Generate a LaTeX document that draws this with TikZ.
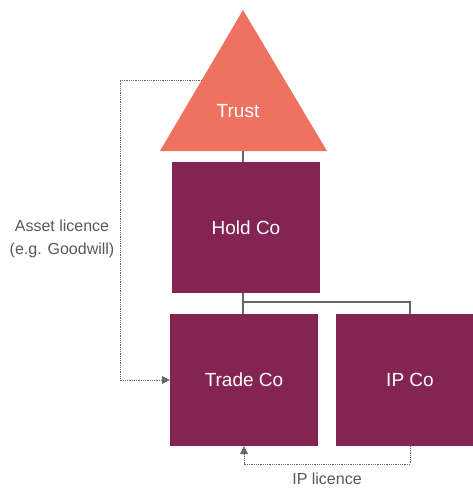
\documentclass[tikz,border=0pt]{standalone}
\usepackage{fontspec}
\setmainfont{Liberation Sans}
\usetikzlibrary{arrows.meta,shapes.geometric}
\definecolor{trustc}{HTML}{EF7260}
\definecolor{boxc}{HTML}{842452}
\definecolor{linec}{HTML}{666666}
\definecolor{labelc}{HTML}{595959}
\begin{document}
\begin{tikzpicture}[x=1pt,y=-1pt,
  entity/.style={fill=boxc,draw=none,text=white,font=\fontsize{19}{22}\selectfont},
  solidlink/.style={draw=linec,line width=1.1pt},
  dotlink/.style={draw=linec,line width=0.8pt,densely dotted,-{Triangle[length=8pt,width=8pt]}},
  lbl/.style={text=labelc,font=\fontsize{16}{23}\selectfont,align=center,inner sep=0pt}]
\useasboundingbox (0,0) rectangle (473,488);
\begin{scope}
\clip (0,0) rectangle (473,488);
% triangle
\fill[trustc] (243,10) -- (327,151) -- (160,151) -- cycle;
\node[text=white,font=\fontsize{19}{22}\selectfont] (trust) at (238,111) {Trust};
\coordinate (trustbase) at (243,151);
\coordinate (trustedge) at (202,80);
% boxes
\node[entity,minimum width=148pt,minimum height=131pt] (hold) at (246,227.5) {Hold Co};
\node[entity,minimum width=148pt,minimum height=132pt] (trade) at (244,380) {Trade Co};
\node[entity,minimum width=148pt,minimum height=132pt] (ip) at (410,380) {IP Co};
% solid links
\draw[solidlink] (trustbase) -- (hold.north -| trustbase);
\draw[solidlink] (hold.south -| trustbase) -- (trade.north -| trustbase);
\coordinate (ipx) at (410,302);
\draw[solidlink] (243,302) -- (ipx) -- (ip.north -| ipx);
% dotted links
\coordinate (a1) at (120,80);
\coordinate (a2) at (120,380);
\draw[dotlink] (trustedge) -- (a1) -- (a2) -- (trade.west);
\coordinate (b1) at (410,464);
\coordinate (b2) at (244,464);
\draw[dotlink] (ip.south -| ipx) -- (b1) -- (b2) -- (trade.south -| b2);
% labels
\node[lbl] (assetlbl) at (62,238.5) {Asset licence\\(e.g. Goodwill)};
\node[lbl] (iplbl) at (327,479) {IP licence};
\end{scope}
\end{tikzpicture}
\end{document}
